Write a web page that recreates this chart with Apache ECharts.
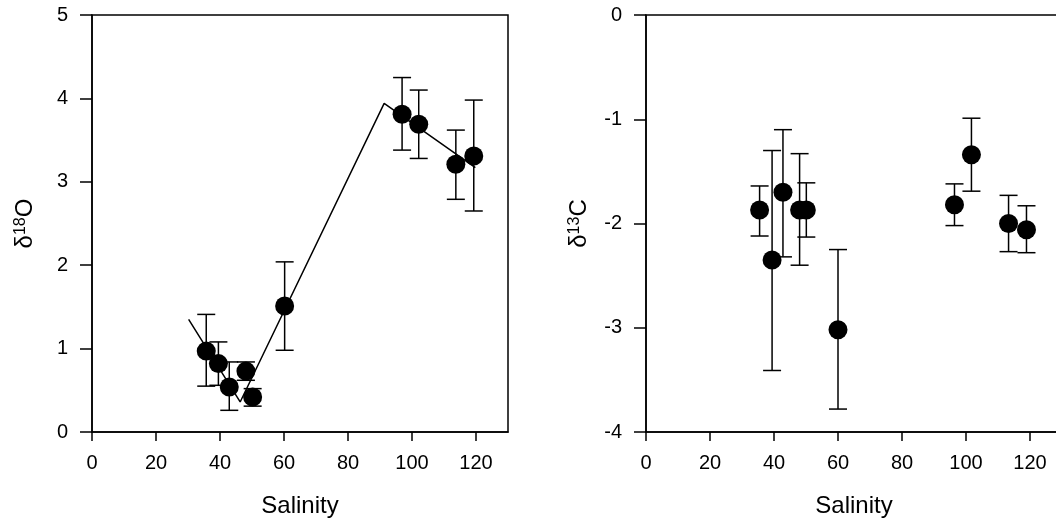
<!DOCTYPE html>
<html>
<head>
<meta charset="utf-8">
<script src="https://cdn.jsdelivr.net/npm/echarts@6/dist/echarts.min.js"></script>
<style>
  html, body { margin: 0; padding: 0; background: #fff; }
  #chart { width: 1056px; height: 531px; }
</style>
</head>
<body>
<div id="chart"></div>
<script>
// left panel: d18O vs salinity
const salinityO = [35.7, 39.5, 42.9, 48.1, 50.2, 60.2, 96.9, 102.1, 113.7, 119.3]
const d18O = [0.97, 0.82, 0.54, 0.73, 0.42, 1.51, 3.81, 3.69, 3.21, 3.31]
const d18OHigh = [1.41, 1.08, 0.84, 0.84, 0.52, 2.04, 4.25, 4.10, 3.62, 3.98]
const d18OLow = [0.55, 0.56, 0.26, 0.62, 0.31, 0.98, 3.38, 3.28, 2.79, 2.65]

// piecewise fit line drawn in left panel
const fitX = [30.2, 46.3, 91.3, 119.8]
const fitY = [1.35, 0.36, 3.94, 3.17]

// right panel: d13C vs salinity
const salinityC = [35.5, 39.4, 42.8, 48.0, 50.1, 60.0, 96.4, 101.7, 113.3, 118.9]
const d13C = [-1.87, -2.35, -1.70, -1.87, -1.87, -3.02, -1.82, -1.34, -2.00, -2.06]
const d13CHigh = [-1.64, -1.30, -1.10, -1.33, -1.61, -2.25, -1.62, -0.99, -1.73, -1.83]
const d13CLow = [-2.12, -3.41, -2.32, -2.40, -2.13, -3.78, -2.02, -1.69, -2.27, -2.28]

// tick labels
const salinityTicks = [0, 20, 40, 60, 80, 100, 120]

const FONT = 'Liberation Sans, Arial, sans-serif'
const LW = 1.5

function errorBar(params, api) {
  const x = api.value(0)
  const hi = api.coord([x, api.value(1)])
  const lo = api.coord([x, api.value(2)])
  const half = 9
  const style = { stroke: '#000', lineWidth: LW, fill: null }
  return {
    type: 'group',
    children: [
      { type: 'line', shape: { x1: hi[0], y1: hi[1], x2: lo[0], y2: lo[1] }, style },
      { type: 'line', shape: { x1: hi[0] - half, y1: hi[1], x2: hi[0] + half, y2: hi[1] }, style },
      { type: 'line', shape: { x1: lo[0] - half, y1: lo[1], x2: lo[0] + half, y2: lo[1] }, style },
    ],
  }
}

function xAxis(gridIndex) {
  return {
    type: 'value',
    gridIndex,
    position: 'bottom',
    min: 0,
    max: 130,
    interval: 20,
    name: 'Salinity',
    nameLocation: 'middle',
    nameGap: 62,
    nameTextStyle: { color: '#000', fontSize: 24, fontFamily: FONT },
    axisLine: { show: true, onZero: false, lineStyle: { color: '#000', width: LW } },
    axisTick: { show: true, inside: false, length: 9, customValues: salinityTicks, lineStyle: { color: '#000', width: LW } },
    axisLabel: { color: '#000', fontSize: 20, fontFamily: FONT, margin: 21, customValues: salinityTicks },
    splitLine: { show: false },
  }
}

function yAxis(gridIndex, min, max, sup, el) {
  return {
    type: 'value',
    gridIndex,
    position: 'left',
    min,
    max,
    interval: 1,
    name: '{a|δ}{s|' + sup + '}{a|' + el + '}',
    nameLocation: 'middle',
    nameGap: 55,
    nameTextStyle: {
      color: '#000',
      fontFamily: FONT,
      rich: {
        a: { fontSize: 24, fontFamily: FONT, color: '#000' },
        s: { fontSize: 16, fontFamily: FONT, color: '#000', verticalAlign: 'top', padding: [0, 0, 6, 0] },
      },
    },
    axisLine: { show: true, onZero: false, lineStyle: { color: '#000', width: LW } },
    axisTick: { show: true, inside: false, length: 12, lineStyle: { color: '#000', width: LW } },
    axisLabel: { color: '#000', fontSize: 20, fontFamily: FONT, margin: 24 },
    splitLine: { show: false },
  }
}

const chart = echarts.init(document.getElementById('chart'), null, { renderer: 'canvas' })

const gridBase = {
  top: 15,
  width: 416,
  height: 417,
  show: true,
  borderColor: '#000',
  borderWidth: LW,
  backgroundColor: 'transparent',
  outerBoundsMode: 'none',
  containLabel: false,
}

const option = {
  animation: false,
  backgroundColor: '#fff',
  grid: [
    Object.assign({ left: 92 }, gridBase),
    Object.assign({ left: 646 }, gridBase),
  ],
  xAxis: [xAxis(0), xAxis(1)],
  yAxis: [yAxis(0, 0, 5, '18', 'O'), yAxis(1, -4, 0, '13', 'C')],
  series: [
    {
      type: 'line',
      xAxisIndex: 0,
      yAxisIndex: 0,
      data: fitX.map((x, i) => [x, fitY[i]]),
      showSymbol: false,
      lineStyle: { color: '#000', width: LW },
      z: 1,
    },
    {
      type: 'custom',
      xAxisIndex: 0,
      yAxisIndex: 0,
      renderItem: errorBar,
      encode: { x: 0, y: [1, 2] },
      data: salinityO.map((x, i) => [x, d18OHigh[i], d18OLow[i]]),
      z: 2,
    },
    {
      type: 'scatter',
      xAxisIndex: 0,
      yAxisIndex: 0,
      data: salinityO.map((x, i) => [x, d18O[i]]),
      symbolSize: 19,
      itemStyle: { color: '#000', opacity: 1 },
      z: 3,
    },
    {
      type: 'custom',
      xAxisIndex: 1,
      yAxisIndex: 1,
      renderItem: errorBar,
      encode: { x: 0, y: [1, 2] },
      data: salinityC.map((x, i) => [x, d13CHigh[i], d13CLow[i]]),
      z: 2,
    },
    {
      type: 'scatter',
      xAxisIndex: 1,
      yAxisIndex: 1,
      data: salinityC.map((x, i) => [x, d13C[i]]),
      symbolSize: 19,
      itemStyle: { color: '#000', opacity: 1 },
      z: 3,
    },
  ],
}

chart.setOption(option)
</script>
</body>
</html>
